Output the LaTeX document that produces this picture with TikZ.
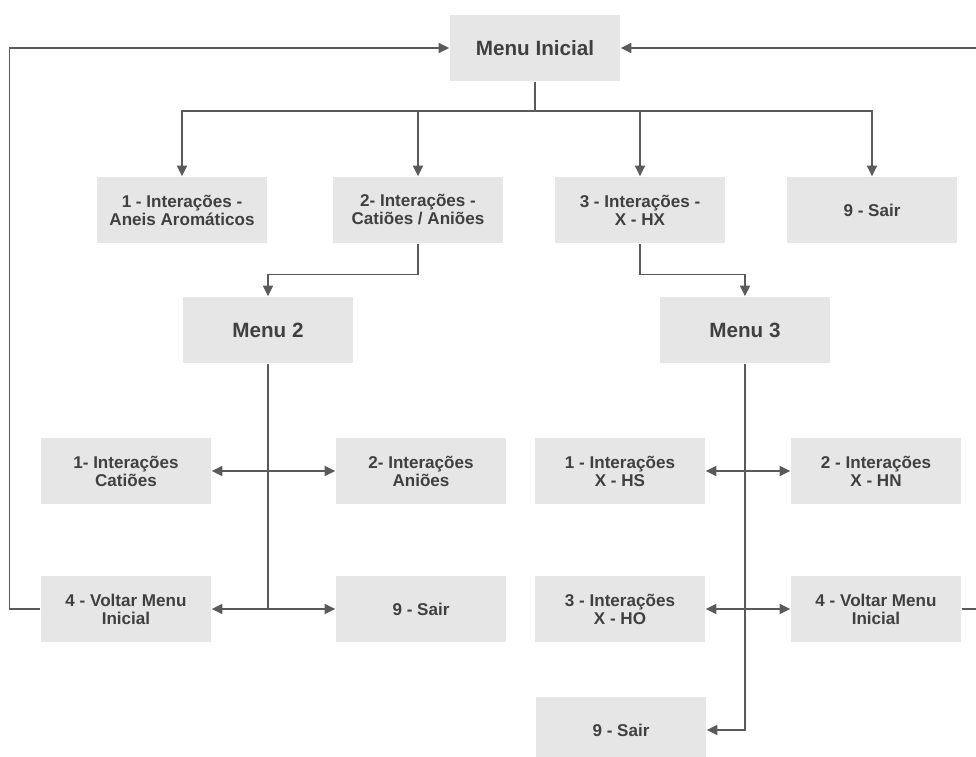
\documentclass[tikz,border=0pt]{standalone}
\usepackage{fontspec}
\setmainfont{Liberation Sans}
\usepackage{tikz}
\usetikzlibrary{arrows.meta,positioning}
\usepackage{xcolor}
\definecolor{boxgray}{HTML}{E6E6E6}
\definecolor{linegray}{HTML}{5A5A5A}
\definecolor{textgray}{HTML}{404040}

\begin{document}
\begin{tikzpicture}[->,>={Triangle[length=8pt,width=7.5pt]},x=0.75pt,y=-0.75pt,
                    line width=1.1pt,draw=linegray]
  \tikzstyle{every node}=[text=textgray]
  \tikzstyle{item}=[fill=boxgray,draw=none,minimum width=127.5pt,minimum height=49.5pt,
                    inner sep=0pt,align=center,font=\fontsize{12.8}{13.5}\selectfont\bfseries]
  \tikzstyle{menu}=[item,font=\fontsize{15.5}{17}\selectfont\bfseries]

  \useasboundingbox (0,0) rectangle (976,757);

  % main menu and first level
  \node[menu] (ini) at (535,48)  {Menu Inicial};
  \node[item] (a1)  at (182,210) {1 - Interações -\\Aneis Aromáticos};
  \node[item] (a2)  at (418,210) {2- Interações -\\Catiões / Aniões};
  \node[item] (a3)  at (640,210) {3 - Interações -\\X - HX};
  \node[item] (a9)  at (872,210) {9 - Sair};

  % sub menus
  \node[menu] (m2)  at (268,330) {Menu 2};
  \node[menu] (m3)  at (745,330) {Menu 3};

  \node[item] (c1)  at (126,471) {1- Interações\\Catiões};
  \node[item] (c2)  at (421,471) {2- Interações\\Aniões};
  \node[item] (c4)  at (126,609) {4 - Voltar Menu\\Inicial};
  \node[item] (c9)  at (421,609) {9 - Sair};

  \node[item] (h1)  at (620,471) {1 - Interações\\X - HS};
  \node[item] (h2)  at (876,471) {2 - Interações\\X - HN};
  \node[item] (h3)  at (620,609) {3 - Interações\\X - HO};
  \node[item] (h4)  at (876,609) {4 - Voltar Menu\\Inicial};
  \node[item] (h9)  at (621,730) {9 - Sair};

  \coordinate (split) at (535,111);
  \coordinate (m2end) at (268,609);
  \coordinate (rt) at (979,609);

  \draw[-] (ini.south) -- (split);
  \draw (split) -| (a1.north);
  \draw (split) -| (a2.north);
  \draw (split) -| (a3.north);
  \draw (split) -| (a9.north);

  \draw (a2.south) -- ++(0,31) -| (m2.north);
  \draw (a3.south) -- ++(0,31) -| (m3.north);

  \draw[-] (m2.south) -- (m2end);
  \draw[<->] (c1.east) -- (c2.west);
  \draw[<->] (c4.east) -- (c9.west);

  \draw (m3.south) |- (h9.east);
  \draw[<->] (h1.east) -- (h2.west);
  \draw[<->] (h3.east) -- (h4.west);

  % back to the main menu
  \draw (c4.west) -- ++(-31,0) |- (ini.west);
  \draw (h4.east) -- (rt) |- (ini.east);
\end{tikzpicture}
\end{document}
